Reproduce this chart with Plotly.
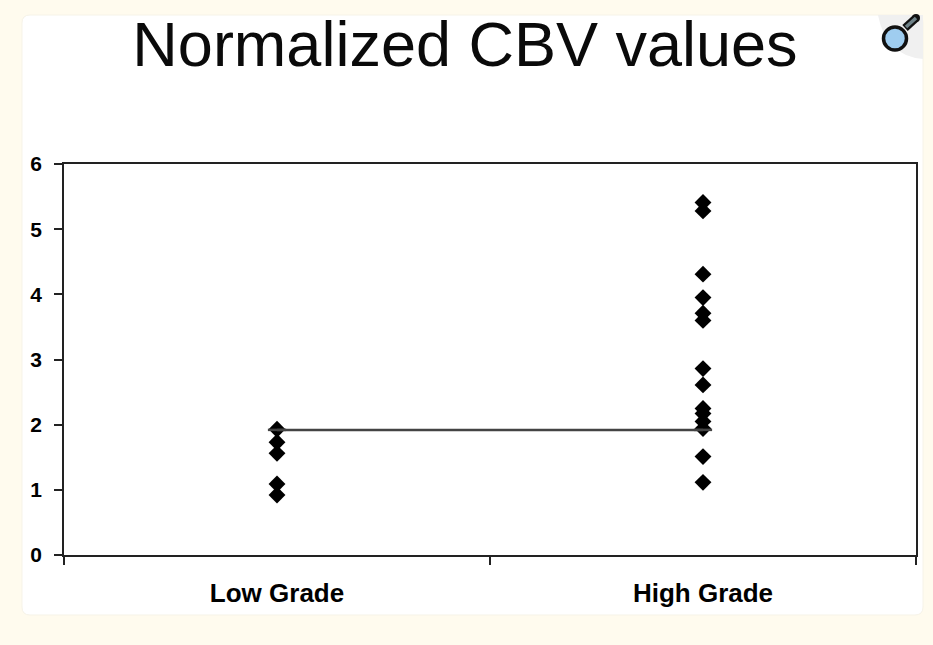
import plotly.graph_objects as go

TITLE = "Normalized CBV values"
CATEGORIES = ["Low Grade", "High Grade"]
LOW_VALUES = [1.93, 1.73, 1.56, 1.09, 0.92]
HIGH_VALUES = [5.41, 5.28, 4.31, 3.95, 3.71, 3.60, 2.86, 2.61, 2.25, 2.17, 2.05, 1.94, 1.51, 1.115]
THRESHOLD = 1.92
Y_TICKS = [0, 1, 2, 3, 4, 5, 6]

W, H = 933, 645
L, R, T, B = 64, 916, 164, 555


def px(x):
    return (x - L) / (R - L)


def py(y):
    return (B - y) / (B - T)


def path(*cmds):
    out = []
    for c in cmds:
        if isinstance(c, str):
            out.append(c)
        else:
            out.append(f"{px(c[0]):.5f},{py(c[1]):.5f}")
    return " ".join(out)


def paper_shape(p, fill="rgba(0,0,0,0)", line=None, width=0, layer="below"):
    return dict(type="path", xref="paper", yref="paper", path=p, fillcolor=fill,
                line=dict(color=line or "rgba(0,0,0,0)", width=width), layer=layer)


def ellipse(cx, cy, r, **kw):
    return dict(type="circle", xref="paper", yref="paper",
                x0=px(cx - r), x1=px(cx + r), y0=py(cy + r), y1=py(cy - r), **kw)


def seg(p0, p1, color, width):
    return dict(type="line", xref="paper", yref="paper", x0=px(p0[0]), y0=py(p0[1]),
                x1=px(p1[0]), y1=py(p1[1]), line=dict(color=color, width=width), layer="above")


card = path("M", (30, 15), "L", (915, 15), "Q", (923, 15), "", (923, 23), "L", (923, 607), "Q", (923, 615), "", (915, 615),
            "L", (30, 615), "Q", (22, 615), "", (22, 607), "L", (22, 23), "Q", (22, 15), "", (30, 15), "Z")
peel = path("M", (878, 15), "L", (923, 15), "L", (923, 59), "Q", (886, 56), "", (878, 15), "Z")
glass_light = path("M", (886, 31), "L", (903, 46), "Q", (907, 40), "", (905, 34), "Q", (902, 29), "", (896, 28),
                   "Q", (890, 28), "", (886, 31), "Z")

shapes = [
    paper_shape(card, fill="#ffffff", line="#f6f3e8", width=1),
    paper_shape(peel, fill="#f0f0f0"),
    seg((905, 28), (916, 18), "#111111", 8),
    ellipse(916, 18, 4, fillcolor="#111111", line=dict(width=0), layer="above"),
    seg((906, 27), (916, 18), "#6f8288", 3.5),
    ellipse(895, 38.5, 11.5, fillcolor="#9fcdf0", line=dict(color="#111111", width=3.5), layer="above"),
]

fig = go.Figure()
fig.add_trace(go.Scatter(
    x=[CATEGORIES[0]] * len(LOW_VALUES), y=LOW_VALUES, mode="markers",
    marker=dict(symbol="diamond", size=13, color="#000000"), showlegend=False))
fig.add_trace(go.Scatter(
    x=[CATEGORIES[1]] * len(HIGH_VALUES), y=HIGH_VALUES, mode="markers",
    marker=dict(symbol="diamond", size=13, color="#000000"), showlegend=False))
fig.add_trace(go.Scatter(
    x=CATEGORIES, y=[THRESHOLD, THRESHOLD], mode="lines+markers",
    line=dict(color="#444444", width=2.5),
    marker=dict(symbol="line-ew", size=13, line=dict(color="#444444", width=2.5)),
    showlegend=False))

fig.update_layout(
    width=W, height=H,
    margin=dict(l=L, r=W - R, t=T, b=H - B, autoexpand=False),
    paper_bgcolor="#fffbee", plot_bgcolor="#ffffff",
    shapes=shapes,
    font=dict(family="Liberation Sans", color="#000000"),
    title=dict(text=TITLE, x=465 / W, xanchor="center", y=1 - 44 / H, yanchor="middle",
               font=dict(size=63, color="#0a0a0a", family="Liberation Sans")),
    xaxis=dict(type="category", categoryorder="array", categoryarray=CATEGORIES,
               range=[-0.5, 1.5], tickson="boundaries", ticks="outside", ticklen=8,
               tickwidth=1.5, tickcolor="#222222", showgrid=False, zeroline=False,
               showline=True, linecolor="#222222", linewidth=1.5, mirror=True,
               tickfont=dict(size=26, family="Liberation Sans", weight="bold"), ticklabelstandoff=14),
    yaxis=dict(range=[0, 6], tickvals=Y_TICKS, ticks="outside", ticklen=8,
               tickwidth=1.5, tickcolor="#222222", showgrid=False, zeroline=False,
               showline=True, linecolor="#222222", linewidth=1.5, mirror=True,
               tickfont=dict(size=21, family="Liberation Sans", weight="bold"), ticklabelstandoff=8),
)

fig.write_html("out.html", config=dict(displayModeBar=False),
               post_script="document.body.style.margin='0';document.body.style.background='#fffbee';window.dispatchEvent(new Event('resize'));")
